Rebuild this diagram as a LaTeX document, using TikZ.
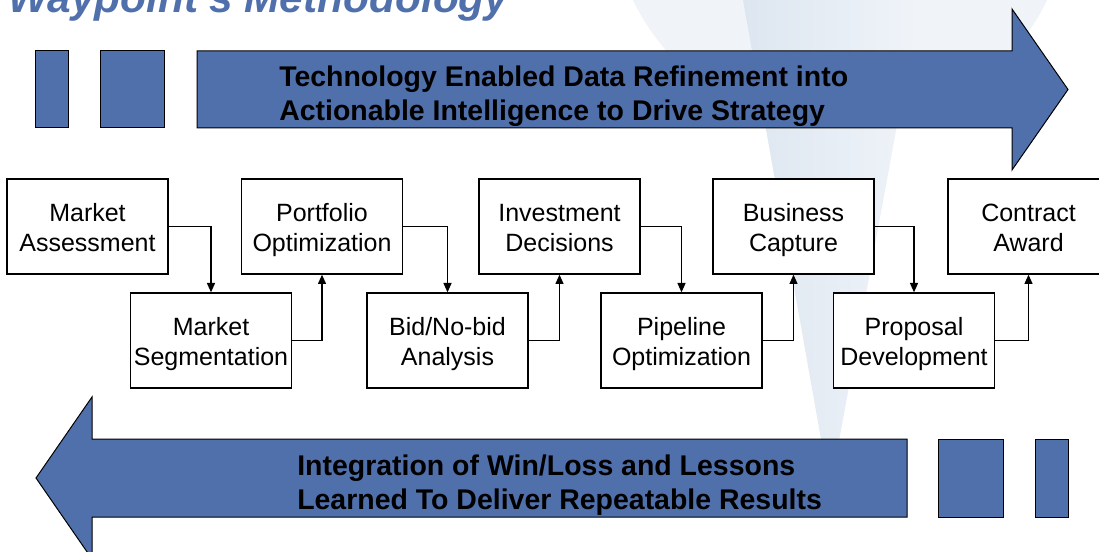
\documentclass[tikz,border=0pt]{standalone}
\usepackage{fontspec}
\setmainfont{Liberation Sans}
\usepackage{tikz}
\usepackage{xcolor}
\usetikzlibrary{shapes, arrows.meta}

\definecolor{wpblue}{RGB}{80,112,172}
\definecolor{wmdark}{RGB}{221,230,240}
\definecolor{wmlight}{RGB}{240,244,249}

% two text lines of a stage box, with fixed baselines
\newcommand{\stagelines}[2]{\rule{0pt}{21.75pt}#1\\#2\strut}

\begin{document}
\begin{tikzpicture}[x=0.75pt,y=0.75pt,yscale=-1,xscale=1,
    stagebox/.style={draw=black, line width=1pt, fill=white, minimum width=120.75pt, minimum height=71.25pt, inner sep=0pt, align=center, font=\fontsize{18.75}{22.5}\selectfont},
    flowline/.style={draw=black, line width=1pt, -{Triangle[length=7pt,width=6pt]}},
    bigarrow/.style={draw=black, line width=0.75pt, fill=wpblue},
    bandtext/.style={anchor=west, inner sep=0.75pt, align=left, font=\fontsize{21.35}{25.5}\selectfont\bfseries}]
    \useasboundingbox (0,0) rectangle (1099,552);

    %Watermark
    \fill [wmlight] (840,-100) circle (230);
    \shade [left color=wmdark, right color=wmlight] (743,0) -- (920,0) -- (830,490) -- cycle;

    % Text Node
    \node [anchor=base west, inner sep=0pt, text=wpblue, font=\fontsize{31.8}{36}\selectfont\bfseries\itshape] (title) at (8,13) {Waypoint's Methodology};

    %Shape: Rectangle
    \draw [bigarrow] (35,51) rectangle (68,128);
    %Shape: Rectangle
    \draw [bigarrow] (100,51) rectangle (164,128);
    %Right Arrow
    \draw [bigarrow] (197,51) -- (1012,51) -- (1012,9) -- (1068,89.5) -- (1012,170) -- (1012,128) -- (197,128) -- cycle;

    %Left Arrow
    \draw [bigarrow] (907,439) -- (92,439) -- (92,397) -- (36,478) -- (92,559) -- (92,517) -- (907,517) -- cycle;
    %Shape: Rectangle
    \draw [bigarrow] (938,439) rectangle (1003,517);
    %Shape: Rectangle
    \draw [bigarrow] (1035,439) rectangle (1068,517);

    % Text Node
    \node [bandtext] (toptext) at (278,96.5) {Technology Enabled Data Refinement into\\Actionable Intelligence to Drive Strategy};
    % Text Node
    \node [bandtext] (bottext) at (296,485) {Integration of Win/Loss and Lessons\\Learned To Deliver Repeatable Results};

    % Text Node
    \node [stagebox] (massess) at (87.5,226.5) {\stagelines{Market}{Assessment}};
    % Text Node
    \node [stagebox] (mseg) at (211,340.5) {\stagelines{Market}{Segmentation}};
    % Text Node
    \node [stagebox] (portf) at (322,226.5) {\stagelines{Portfolio}{Optimization}};
    % Text Node
    \node [stagebox] (bidnobid) at (447.5,340.5) {\stagelines{Bid/No-bid}{Analysis}};
    % Text Node
    \node [stagebox] (invest) at (559.5,226.5) {\stagelines{Investment}{Decisions}};
    % Text Node
    \node [stagebox] (pipeline) at (681.5,340.5) {\stagelines{Pipeline}{Optimization}};
    % Text Node
    \node [stagebox] (bizcap) at (793.5,226.5) {\stagelines{Business}{Capture}};
    % Text Node
    \node [stagebox] (proposal) at (914,340.5) {\stagelines{Proposal}{Development}};
    % Text Node
    \node [stagebox] (contract) at (1028.5,226.5) {\stagelines{Contract}{Award}};

    %Straight Lines
    \draw [flowline] (massess.east) -| (mseg.north);
    \draw [flowline] (mseg.east) -| (portf.south);
    \draw [flowline] (portf.east) -| (bidnobid.north);
    \draw [flowline] (bidnobid.east) -| (invest.south);
    \draw [flowline] (invest.east) -| (pipeline.north);
    \draw [flowline] (pipeline.east) -| (bizcap.south);
    \draw [flowline] (bizcap.east) -| (proposal.north);
    \draw [flowline] (proposal.east) -| (contract.south);
\end{tikzpicture}
\end{document}
